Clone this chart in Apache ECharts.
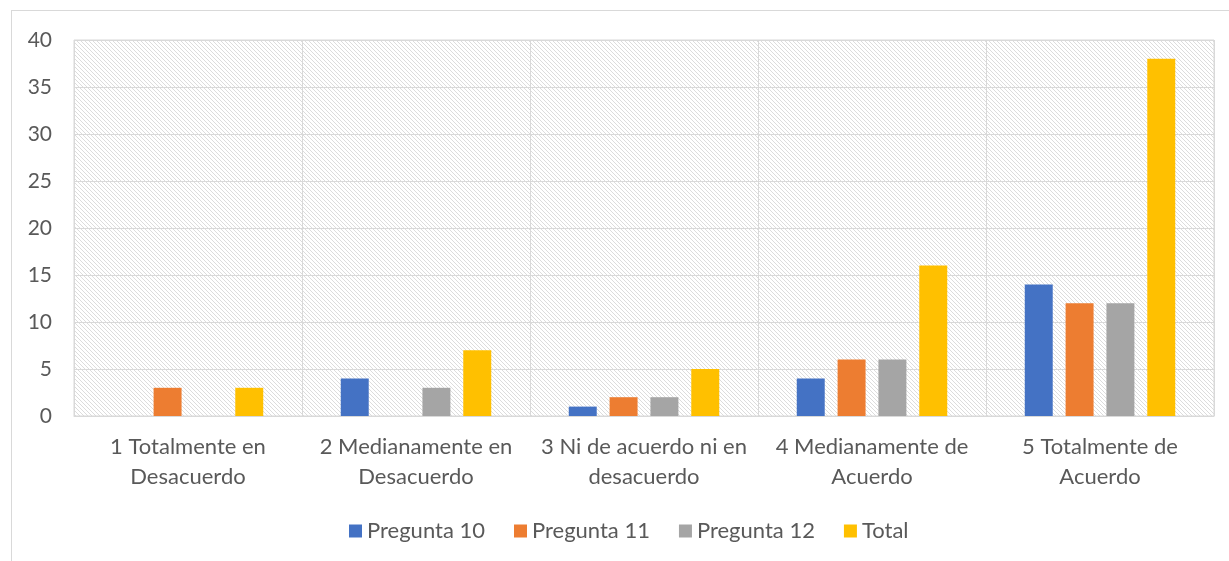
<!DOCTYPE html>
<html><head><meta charset="utf-8">
<script src="https://cdn.jsdelivr.net/npm/echarts@6/dist/echarts.min.js"></script>
<style>
html,body{margin:0;padding:0;background:#fff;}
#frame{position:absolute;left:11px;top:10px;width:1240px;height:600px;border:1px solid #d9d9d9;box-sizing:border-box;}
#c{position:absolute;left:0;top:0;width:1229px;height:561px;}
</style></head>
<body><div id="frame"></div><div id="c"></div>
<script>
const categories = ["1 Totalmente en\nDesacuerdo","2 Medianamente en\nDesacuerdo","3 Ni de acuerdo ni en\ndesacuerdo","4 Medianamente de\nAcuerdo","5 Totalmente de\nAcuerdo"];
const pregunta10 = [0,4,1,4,14];
const pregunta11 = [3,0,2,6,12];
const pregunta12 = [0,3,2,6,12];
const total = [3,7,5,16,38];
const seriesNames = ["Pregunta 10","Pregunta 11","Pregunta 12","Total"];
const colors = ["#4472C4","#ED7D31","#A5A5A5","#FFC000"];

const pc = document.createElement('canvas');
pc.width = 8; pc.height = 8;
const ctx = pc.getContext('2d');
ctx.fillStyle = '#ffffff'; ctx.fillRect(0,0,8,8);
ctx.fillStyle = '#dcdcdc';
for (let i=0;i<8;i++){ ctx.fillRect(i,i,1,1); ctx.fillRect(i,(i+4)%8,1,1); }

const chart = echarts.init(document.getElementById('c'));
const font = "Lato, sans-serif";
const mk = (name, data, color) => ({
  name, type:'bar', data, itemStyle:{color}, barGap:'46%', barCategoryGap:'34%'
});
chart.setOption({
  animation:false,
  color: colors,
  grid:{left:74,right:15,top:40,bottom:145,show:true,borderColor:'#d9d9d9',borderWidth:1,
        backgroundColor:{image:pc,repeat:'repeat'}},
  legend:{bottom:14,left:344,itemWidth:13,itemHeight:13,itemGap:29,itemTextGap:7,icon:'rect',
          textStyle:{color:'#595959',fontSize:22,fontFamily:font}},
  xAxis:{type:'category',data:categories,
    axisLine:{lineStyle:{color:'#d9d9d9'}},axisTick:{show:false},
    splitLine:{show:true,lineStyle:{color:'#d9d9d9',width:1}},
    axisLabel:{color:'#595959',fontSize:22,fontFamily:font,lineHeight:30,margin:16,interval:0}},
  yAxis:{type:'value',min:0,max:40,interval:5,
    axisLine:{show:false},axisTick:{show:false},
    splitLine:{lineStyle:{color:'#d9d9d9',width:1}},
    axisLabel:{color:'#595959',fontSize:21,fontFamily:font,margin:22}},
  series:[mk(seriesNames[0],pregunta10,colors[0]),mk(seriesNames[1],pregunta11,colors[1]),
          mk(seriesNames[2],pregunta12,colors[2]),mk(seriesNames[3],total,colors[3])]
});
</script></body></html>
